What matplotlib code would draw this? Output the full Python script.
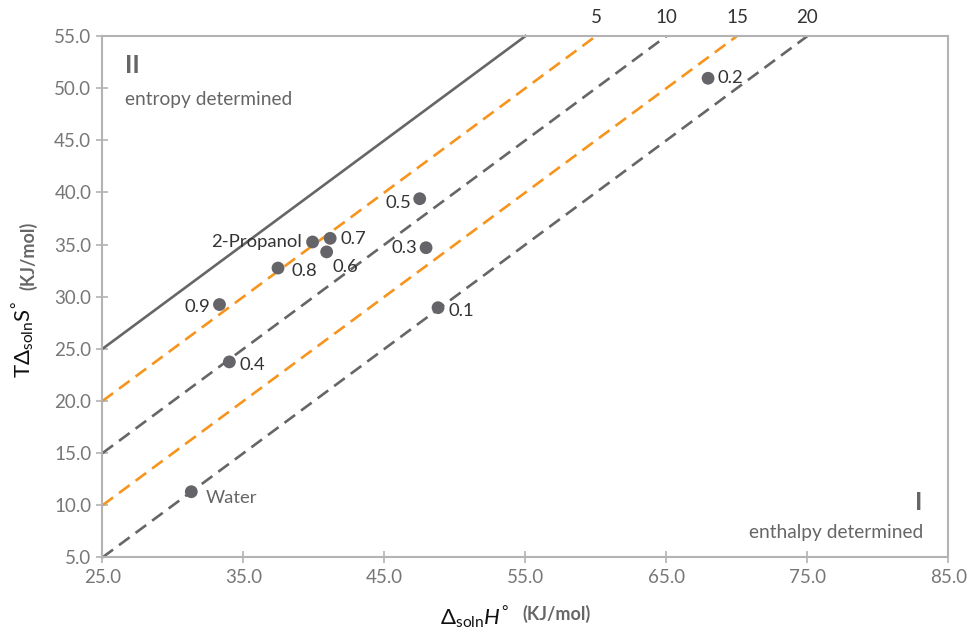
import matplotlib
matplotlib.use("Agg")
import matplotlib.pyplot as plt

plt.rcParams["font.family"] = ["Lato", "DejaVu Sans"]
plt.rcParams["mathtext.fontset"] = "custom"
plt.rcParams["mathtext.rm"] = "Lato"
plt.rcParams["mathtext.it"] = "Lato:italic"
plt.rcParams["mathtext.bf"] = "Lato:bold"

# solvent points: mole fraction label, dH (x), TdS (y)
labels = ["Water", "0.9", "0.4", "0.8", "2-Propanol", "0.7", "0.6", "0.5", "0.3", "0.1", "0.2"]
dH = [31.3, 33.3, 34.0, 37.45, 39.9, 41.15, 40.9, 47.5, 47.95, 48.8, 67.95]
TdS = [11.3, 29.25, 23.75, 32.75, 35.25, 35.6, 34.3, 39.4, 34.7, 28.95, 50.95]
# label offsets in px (dx, dy, ha)
offsets = [(14, -6, "left"), (-9, -2, "right"), (10, -3, "left"), (13, -3, "left"),
           (-11, 0, "right"), (10, -1, "left"), (6, -15, "left"), (-8, -4, "right"),
           (-9, 0, "right"), (10, -3, "left"), (9, 0, "left")]

# reference lines TdS = dH - offset
line_offsets = [0, 5, 10, 15, 20]
line_colors = ["#666666", "#f7941d", "#666666", "#f7941d", "#666666"]

xticks = [25, 35, 45, 55, 65, 75, 85]
yticks = [5, 10, 15, 20, 25, 30, 35, 40, 45, 50, 55]

GRAY = "#777777"
SPINE = "#b3b3b3"

fig = plt.figure(figsize=(9.73, 6.32), dpi=100)
ax = fig.add_axes([0.1053, 0.118, 0.8695, 0.825])
ax.set_xlim(25, 85)
ax.set_ylim(5, 55)

for off, col in zip(line_offsets, line_colors):
    x0 = 25
    x1 = 55 + off
    ls = "-" if off == 0 else (0, (5, 2.8))
    ax.plot([x0, x1], [x0 - off, x1 - off], color=col, lw=1.9, ls=ls, zorder=2, clip_on=False)
    if off > 0:
        ax.text(x1, 55 + 1.0, str(off), ha="center", va="bottom", fontsize=13.5, color="#333333")

ax.scatter(dH, TdS, s=85, color="#656569", zorder=3, edgecolors="none")
for lab, x, y, (dx, dy, ha) in zip(labels, dH, TdS, offsets):
    ax.annotate(lab, (x, y), xytext=(dx * 0.72, dy * 0.72), textcoords="offset points",
                ha=ha, va="center", fontsize=13.3,
                color="#666666" if lab == "Water" else "#333333")

ax.set_xticks(xticks)
ax.set_yticks(yticks)
ax.set_xticklabels([f"{t:.1f}" for t in xticks])
ax.set_yticklabels([f"{t:.1f}" for t in yticks])
ax.tick_params(direction="inout", length=8, width=1.2, color=SPINE, labelcolor=GRAY,
               labelsize=13.5, pad=4)
for sp in ax.spines.values():
    sp.set_color(SPINE)
    sp.set_linewidth(1.5)

ax.text(0.027, 0.943, "II", transform=ax.transAxes, fontsize=18, color="#666666",
        fontweight="bold", va="center", ha="left")
ax.text(0.027, 0.878, "entropy determined", transform=ax.transAxes, fontsize=13.8,
        color="#666666", va="center", ha="left")
ax.text(0.969, 0.105, "I", transform=ax.transAxes, fontsize=18, color="#666666",
        fontweight="bold", va="center", ha="right")
ax.text(0.97, 0.047, "enthalpy determined", transform=ax.transAxes, fontsize=13.8,
        color="#666666", va="center", ha="right")

# axis titles
fig.text(509 / 973, 1 - 617 / 632, r"$\Delta_{\mathrm{soln}}\mathit{H}^{°}$", ha="right",
         va="center", fontsize=16, color="#111111")
fig.text(522 / 973, 1 - 614 / 632, "(KJ/mol)", ha="left", va="center", fontsize=13,
         fontweight="bold", color="#666666")
fig.text(23 / 973, 1 - 340 / 632, r"$\mathrm{T}\Delta_{\mathrm{soln}}\mathrm{S}^{°}$",
         ha="center", va="center", rotation=90, fontsize=16, color="#111111")
fig.text(28 / 973, 1 - 256 / 632, "(KJ/mol)", ha="center", va="center", rotation=90,
         fontsize=13, fontweight="bold", color="#666666")

fig.savefig("out.png", dpi=100)
